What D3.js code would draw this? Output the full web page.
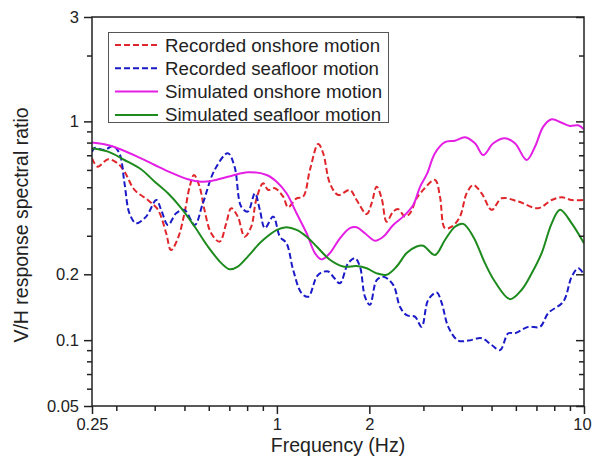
<!DOCTYPE html>
<html>
<head>
<meta charset="utf-8">
<script src="https://cdn.jsdelivr.net/npm/d3@7/dist/d3.min.js"></script>
<style>
  html, body { margin: 0; padding: 0; background: #fff; }
  svg { display: block; font-family: "Liberation Sans", Arial, sans-serif; }
</style>
</head>
<body>
<svg id="chart" width="592" height="459"></svg>
<script>
// ---------- DATA ----------
const xMajorTicks = [0.25, 1, 2, 10];
const xMajorLabels = ["0.25", "1", "2", "10"];
const xMinorTicks = [0.3, 0.4, 0.5, 0.6, 0.7, 0.8, 0.9, 3, 4, 5, 6, 7, 8, 9];
const yMajorTicks = [3, 1, 0.2, 0.1, 0.05];
const yMajorLabels = ["3", "1", "0.2", "0.1", "0.05"];
const yMinorTicks = [2, 0.9, 0.8, 0.7, 0.6, 0.5, 0.4, 0.3, 0.09, 0.08, 0.07, 0.06];

const seriesNames = ["Recorded onshore motion", "Recorded seafloor motion",
                     "Simulated onshore motion", "Simulated seafloor motion"];

// Recorded onshore motion (red dashed)
const recOnshoreF = [0.25,0.261,0.282,0.303,0.319,0.344,0.380,0.410,0.436,0.452,0.476,0.500,0.520,0.537,0.560,0.581,0.611,0.651,0.684,0.710,0.746,0.785,0.825,0.856,0.902,0.937,0.985,1.048,1.088,1.159,1.218,1.281,1.363,1.415,1.488,1.584,1.729,1.818,1.960,2.034,2.113,2.193,2.277,2.392,2.484,2.612,2.712,2.851,2.960,3.271,3.396,3.526,3.708,3.945,4.149,4.359,4.643,5.004,5.395,6.109,7.097,7.850,8.459,9.119,10];
const recOnshoreV = [0.678,0.621,0.671,0.643,0.589,0.486,0.437,0.394,0.308,0.258,0.292,0.380,0.503,0.569,0.503,0.394,0.308,0.282,0.342,0.401,0.367,0.297,0.330,0.437,0.521,0.486,0.495,0.453,0.405,0.445,0.453,0.600,0.788,0.715,0.521,0.461,0.486,0.437,0.377,0.422,0.503,0.445,0.348,0.387,0.397,0.367,0.380,0.445,0.477,0.540,0.453,0.325,0.330,0.367,0.469,0.512,0.469,0.394,0.445,0.430,0.401,0.437,0.450,0.437,0.437];

// Recorded seafloor motion (blue dashed)
const recSeafloorF = [0.25,0.255,0.275,0.292,0.307,0.319,0.331,0.348,0.375,0.405,0.420,0.442,0.470,0.500,0.540,0.574,0.627,0.692,0.728,0.765,0.804,0.848,0.880,0.914,0.973,1.023,1.075,1.130,1.203,1.265,1.347,1.398,1.469,1.525,1.604,1.707,1.795,1.864,1.935,2.009,2.113,2.220,2.392,2.516,2.645,2.815,2.960,3.111,3.313,3.440,3.614,3.895,4.200,4.643,5.004,5.327,5.668,5.959,6.586,7.190,7.652,8.561,9.119,9.581,10];
const recSeafloorV = [0.725,0.756,0.740,0.772,0.715,0.521,0.380,0.342,0.367,0.437,0.394,0.336,0.380,0.394,0.336,0.422,0.600,0.715,0.621,0.408,0.387,0.469,0.394,0.325,0.367,0.297,0.277,0.209,0.164,0.158,0.195,0.204,0.206,0.195,0.182,0.225,0.237,0.217,0.158,0.145,0.188,0.195,0.179,0.142,0.130,0.128,0.115,0.153,0.165,0.148,0.115,0.0995,0.0995,0.102,0.095,0.090,0.1075,0.1075,0.115,0.115,0.133,0.150,0.195,0.213,0.199];

// Simulated onshore motion (magenta)
const simOnshoreF = [0.25,0.289,0.361,0.400,0.452,0.513,0.567,0.611,0.710,0.804,0.926,0.998,1.075,1.159,1.250,1.330,1.398,1.488,1.604,1.729,1.818,1.935,2.086,2.220,2.392,2.578,2.780,2.923,3.081,3.271,3.526,3.801,4.097,4.415,4.699,5.065,5.530,5.959,6.508,6.924,7.369,7.850,8.459,9.004,9.581,10];
const simOnshoreV = [0.800,0.772,0.678,0.632,0.583,0.544,0.530,0.534,0.563,0.585,0.569,0.530,0.469,0.380,0.308,0.250,0.234,0.250,0.292,0.325,0.328,0.308,0.285,0.297,0.336,0.367,0.415,0.501,0.575,0.715,0.803,0.816,0.846,0.794,0.702,0.794,0.837,0.794,0.666,0.766,0.946,1.022,0.986,0.953,0.960,0.920];

// Simulated seafloor motion (green)
const simSeafloorF = [0.25,0.282,0.319,0.361,0.400,0.442,0.488,0.540,0.596,0.659,0.701,0.746,0.804,0.867,0.902,1.0,1.075,1.159,1.250,1.347,1.488,1.644,1.818,1.960,2.113,2.277,2.454,2.645,2.851,2.996,3.271,3.526,3.801,4.045,4.359,4.759,5.130,5.741,6.268,6.756,7.279,7.850,8.353,9.119,10];
const simSeafloorV = [0.754,0.727,0.666,0.604,0.530,0.469,0.401,0.330,0.268,0.225,0.211,0.217,0.241,0.272,0.287,0.319,0.328,0.319,0.297,0.268,0.233,0.217,0.218,0.213,0.202,0.199,0.217,0.250,0.268,0.270,0.245,0.287,0.330,0.340,0.297,0.225,0.185,0.154,0.170,0.202,0.250,0.342,0.394,0.342,0.277];

// ---------- CHART ----------
const svg = d3.select("#chart");
const L = 92, R = 584, T = 17, B = 406;
const axisColor = "#222";

const x = d3.scaleLog().domain([0.25, 10]).range([L, R]);
const y = d3.scaleLog().domain([0.05, 3]).range([B, T]);

svg.append("defs").append("clipPath").attr("id", "plotclip")
  .append("rect").attr("x", L).attr("y", T).attr("width", R - L).attr("height", B - T);

const series = [
  { f: recOnshoreF, v: recOnshoreV, color: "#e0262a", dash: "6,3" },
  { f: recSeafloorF, v: recSeafloorV, color: "#1a1ac8", dash: "6,3" },
  { f: simOnshoreF, v: simOnshoreV, color: "#e41ee4", dash: null },
  { f: simSeafloorF, v: simSeafloorV, color: "#1d8a1d", dash: null }
];

const line = d3.line()
  .x(d => x(d[0])).y(d => y(d[1]))
  .curve(d3.curveCatmullRom.alpha(0.5));

const plotG = svg.append("g").attr("clip-path", "url(#plotclip)");
series.forEach(s => {
  const pts = s.f.map((f, i) => [f, s.v[i]]);
  plotG.append("path")
    .datum(pts)
    .attr("d", line)
    .attr("fill", "none")
    .attr("stroke", s.color)
    .attr("stroke-width", 2)
    .attr("stroke-dasharray", s.dash)
    .attr("stroke-linejoin", "round");
});

function styleAxis(g) {
  g.select(".domain").remove();
  g.selectAll(".tick line").attr("stroke", axisColor).attr("stroke-width", 1.5);
  g.selectAll(".tick text").attr("fill", axisColor)
    .style("font-family", "'Liberation Sans', Arial, sans-serif");
}

// bottom axis
const bx = svg.append("g").attr("transform", `translate(0,${B})`)
  .call(d3.axisBottom(x).tickValues(xMajorTicks).tickSize(8).tickPadding(4)
    .tickFormat((d, i) => xMajorLabels[i]))
  .call(styleAxis);
bx.selectAll("text").style("font-size", "16.5px");
// keep the last label ("10") inside the picture
bx.selectAll(".tick text").filter((d) => d === 10).attr("dx", "-2");
svg.append("g").attr("transform", `translate(0,${B})`)
  .call(d3.axisBottom(x).tickValues(xMinorTicks).tickSize(5).tickFormat(""))
  .call(styleAxis);

// left axis
svg.append("g").attr("transform", `translate(${L},0)`)
  .call(d3.axisLeft(y).tickValues(yMajorTicks).tickSize(8).tickPadding(5)
    .tickFormat((d, i) => yMajorLabels[i]))
  .call(styleAxis)
  .selectAll("text").style("font-size", "16.5px");
svg.append("g").attr("transform", `translate(${L},0)`)
  .call(d3.axisLeft(y).tickValues(yMinorTicks).tickSize(5).tickFormat(""))
  .call(styleAxis);

// right axis (inward ticks)
svg.append("g").attr("transform", `translate(${R},0)`)
  .call(d3.axisLeft(y).tickValues(yMajorTicks).tickSize(8).tickFormat(""))
  .call(styleAxis);
svg.append("g").attr("transform", `translate(${R},0)`)
  .call(d3.axisLeft(y).tickValues(yMinorTicks).tickSize(5).tickFormat(""))
  .call(styleAxis);

// frame
svg.append("rect")
  .attr("x", L).attr("y", T).attr("width", R - L).attr("height", B - T)
  .attr("fill", "none").attr("stroke", axisColor).attr("stroke-width", 1.5);

// axis titles
svg.append("text")
  .attr("x", (L + R) / 2).attr("y", 451.5)
  .attr("text-anchor", "middle")
  .attr("fill", axisColor)
  .style("font-size", "19.5px")
  .text("Frequency (Hz)");

svg.append("text")
  .attr("transform", `translate(28,225) rotate(-90)`)
  .attr("text-anchor", "middle")
  .attr("fill", axisColor)
  .style("font-size", "19.5px")
  .text("V/H response spectral ratio");

// legend
const lg = svg.append("g");
lg.append("rect")
  .attr("x", 108.5).attr("y", 32.5).attr("width", 280).attr("height", 90)
  .attr("fill", "#fff").attr("stroke", "#555").attr("stroke-width", 1);
series.forEach((s, i) => {
  const cy = 45 + i * 23.3;
  lg.append("line")
    .attr("x1", 115).attr("x2", 158).attr("y1", cy).attr("y2", cy)
    .attr("stroke", s.color).attr("stroke-width", 2)
    .attr("stroke-dasharray", s.dash);
  lg.append("text")
    .attr("x", 165).attr("y", cy).attr("dy", "0.35em")
    .attr("fill", "#222")
    .style("font-size", "18.7px")
    .text(seriesNames[i]);
});
</script>
</body>
</html>
